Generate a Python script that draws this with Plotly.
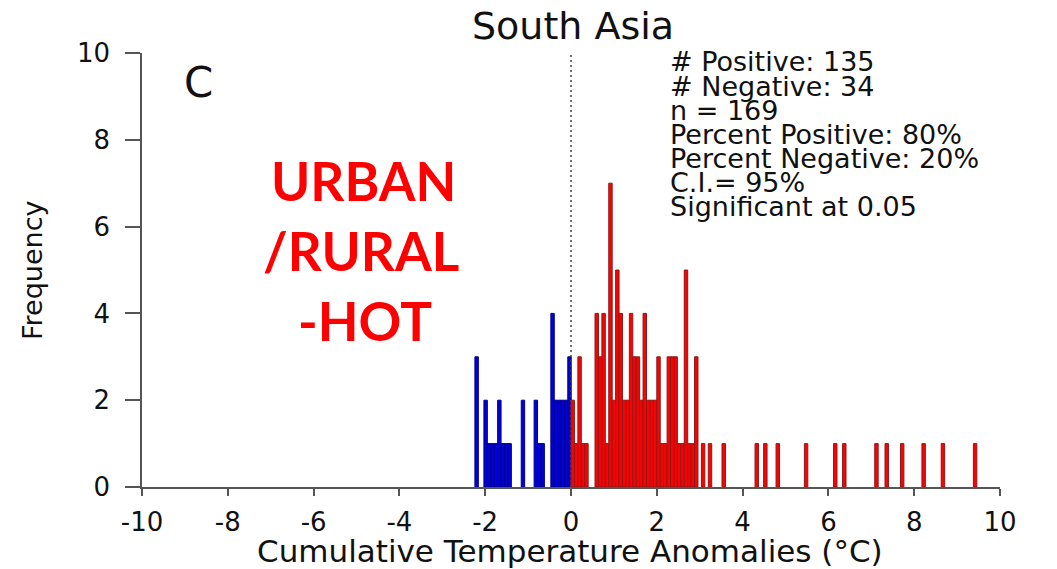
import plotly.graph_objects as go

# ---- data ----
neg_x = [-2.20, -1.99, -1.91, -1.83, -1.75, -1.67, -1.59, -1.51, -1.43,
         -1.12, -0.82, -0.74, -0.66, -0.43, -0.35, -0.27, -0.19, -0.11, -0.035]
neg_y = [3, 2, 1, 1, 1, 2, 1, 1, 1,
         2, 2, 1, 1, 4, 2, 2, 2, 2, 3]

pos_x = [0.04, 0.12, 0.20, 0.28, 0.36,
         0.60, 0.68, 0.76, 0.84, 0.92, 1.00, 1.08, 1.16, 1.24, 1.32,
         1.40, 1.48, 1.56, 1.64, 1.72, 1.80, 1.88, 1.96, 2.04, 2.12,
         2.20, 2.28, 2.36, 2.44, 2.52, 2.60, 2.68, 2.76, 2.84, 2.92,
         3.08, 3.24, 3.56,
         4.33, 4.53, 4.82, 5.48, 6.16, 6.37, 7.12, 7.36, 7.72, 8.22, 8.67, 9.42]
pos_y = [2, 1, 3, 1, 1,
         4, 3, 4, 1, 7, 2, 5, 4, 2, 2,
         4, 3, 3, 2, 4, 2, 2, 2, 3, 1,
         1, 3, 3, 3, 1, 1, 5, 1, 1, 3,
         1, 1, 1,
         1, 1, 1, 1, 1, 1, 1, 1, 1, 1, 1, 1]

bar_width = 0.08

x_ticks = [-10, -8, -6, -4, -2, 0, 2, 4, 6, 8, 10]
y_ticks = [0, 2, 4, 6, 8, 10]

title_text = "South Asia"
panel_label = "C"
x_title = "Cumulative Temperature Anomalies (\u00b0C)"
y_title = "Frequency"
stats_lines = ["# Positive: 135", "# Negative: 34", "n = 169",
               "Percent Positive: 80%", "Percent Negative: 20%",
               "C.I.= 95%", "Significant at 0.05"]
overlay_lines = ["URBAN", "/RURAL", "-HOT"]

# ---- layout geometry ----
W, H = 1057, 569
L, R, T, B = 142, 57, 53, 82
PW, PH = W - L - R, H - T - B


def xp(px):
    return (px - L) / PW


def yp(py):
    return 1 - (py - T) / PH


FONT = "DejaVu Sans"
AX = "#555555"

fig = go.Figure()
fig.add_trace(go.Bar(x=neg_x, y=neg_y, width=bar_width,
                     marker=dict(color="#0000d8", line=dict(color="#00008b", width=1)),
                     showlegend=False))
fig.add_trace(go.Bar(x=pos_x, y=pos_y, width=bar_width,
                     marker=dict(color="#ff0000", line=dict(color="#8b1a1a", width=1)),
                     showlegend=False))

fig.add_shape(type="line", xref="x", yref="y", x0=0, x1=0, y0=0, y1=10,
              line=dict(color="#444444", width=1.5, dash="2px,3px"), layer="above")

annotations = []
annotations.append(dict(text=title_text, xref="paper", yref="paper", x=xp(573), y=yp(26),
                        xanchor="center", yanchor="middle", showarrow=False,
                        font=dict(family=FONT, size=38, color="#111111")))
annotations.append(dict(text=panel_label, xref="paper", yref="paper", x=xp(198), y=yp(82),
                        xanchor="center", yanchor="middle", showarrow=False,
                        font=dict(family=FONT, size=42, color="#111111")))
stat_y = [62, 86, 110, 134, 158, 182, 206]
for line, py in zip(stats_lines, stat_y):
    annotations.append(dict(text=line, xref="paper", yref="paper", x=xp(668), y=yp(py),
                            xanchor="left", yanchor="middle", showarrow=False,
                            font=dict(family=FONT, size=27, color="#111111")))
over_pos = [(363, 180), (361, 250), (365, 320)]
for line, (px, py) in zip(overlay_lines, over_pos):
    annotations.append(dict(text="<b>" + line + "</b>", xref="paper", yref="paper",
                            x=xp(px), y=yp(py), xanchor="center", yanchor="middle",
                            showarrow=False,
                            font=dict(family="Lato", size=53, color="#ff0000")))
annotations.append(dict(text=x_title, xref="paper", yref="paper", x=xp(570), y=yp(551),
                        xanchor="center", yanchor="middle", showarrow=False,
                        font=dict(family=FONT, size=31, color="#111111")))
annotations.append(dict(text=y_title, xref="paper", yref="paper", x=xp(32), y=yp(270),
                        xanchor="center", yanchor="middle", showarrow=False, textangle=-90,
                        font=dict(family=FONT, size=27, color="#111111")))

fig.update_layout(
    width=W, height=H,
    margin=dict(l=L, r=R, t=T, b=B),
    paper_bgcolor="white", plot_bgcolor="white",
    barmode="overlay",
    annotations=annotations,
    xaxis=dict(range=[-10, 10], tickmode="array", tickvals=x_ticks,
               ticktext=[str(v) for v in x_ticks],
               showgrid=False, zeroline=False, showline=True, linecolor=AX, linewidth=1.5,
               ticks="outside", ticklen=7, tickwidth=1.5, tickcolor=AX,
               ticklabelstandoff=4,
               tickfont=dict(family=FONT, size=26, color="#111111")),
    yaxis=dict(range=[0, 10], tickmode="array", tickvals=y_ticks,
               ticktext=[str(v) for v in y_ticks],
               showgrid=False, zeroline=False, showline=True, linecolor=AX, linewidth=1.5,
               ticks="outside", ticklen=15, tickwidth=1.5, tickcolor=AX,
               ticklabelstandoff=10,
               tickfont=dict(family=FONT, size=26, color="#111111")),
)

fig.write_html("out.html")
